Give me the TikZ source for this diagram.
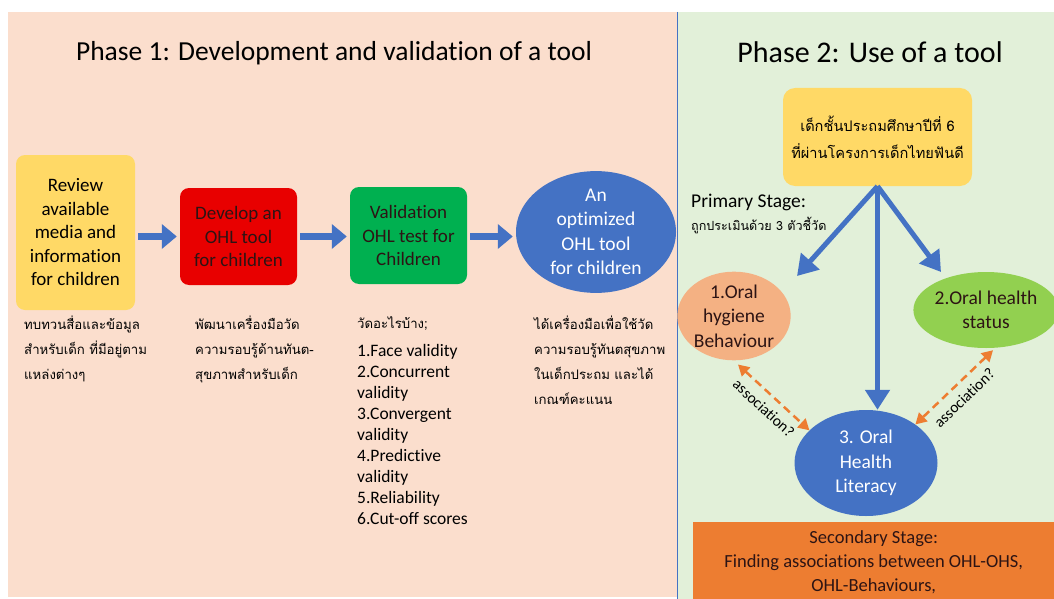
\documentclass[tikz,border=0pt]{standalone}
\usepackage{fontspec}
\setmainfont{Carlito}[Ligatures=NoCommon]
\newfontfamily\thaifont[Script=Thai]{Loma}
\usetikzlibrary{shapes.geometric,arrows.meta,positioning}

\definecolor{peachbg}{RGB}{251,222,205}
\definecolor{greenbg}{RGB}{226,240,217}
\definecolor{tyellow}{RGB}{255,217,102}
\definecolor{tred}{RGB}{232,0,0}
\definecolor{tgreen}{RGB}{0,176,80}
\definecolor{tblue}{RGB}{68,114,196}
\definecolor{tpeach}{RGB}{244,177,131}
\definecolor{tlime}{RGB}{146,208,80}
\definecolor{torange}{RGB}{237,125,49}
\definecolor{darktext}{RGB}{45,20,20}

\tikzset{
    box/.style={align=center, inner sep=2pt, rounded corners=9pt,
        font=\fontsize{19}{23.5}\selectfont},
    oval/.style={ellipse, align=center, inner sep=0pt,
        font=\fontsize{19.5}{24.5}\selectfont},
    thainote/.style={align=left, inner sep=0pt, anchor=north west,
        font=\thaifont\fontsize{13.2}{25}\selectfont},
    blockarrow/.style={draw=tblue, line width=7pt,
        -{Triangle[length=15pt,width=24pt]}, shorten <=3pt, shorten >=3pt},
    stemarrow/.style={draw=tblue, line width=5pt,
        -{Triangle[length=20pt,width=24pt]}},
    assoc/.style={draw=torange, line width=2.5pt, dash pattern=on 8pt off 5pt,
        {Triangle[length=11pt,width=12pt]}-{Triangle[length=11pt,width=12pt]}},
    assoclabel/.style={midway, below=8pt, sloped, inner sep=0pt,
        font=\fontsize{15.5}{17}\selectfont}
}

\begin{document}
\begin{tikzpicture}[x=1pt, y=-1pt]
\useasboundingbox (0,0) rectangle (1054,599);
\clip (0,0) rectangle (1054,599);
\fill[white] (0,0) rectangle (1054,599);
\fill[peachbg] (8,12) rectangle (677,597);
\fill[greenbg] (677,12) rectangle (1054,599);
\draw[tblue, line width=0.8pt] (677,12) -- (677,599);

% Phase 1
\node[font=\fontsize{27.5}{32}\selectfont] (ph1) at (334,53)
    {Phase 1: Development and validation of a tool};
\node[box,
    fill=tyellow,
    minimum width=119pt,
    minimum height=155pt
] (rev) at (75.5,232.5) {Review\\available\\media and\\information\\for children};
\node[box,
    fill=tred,
    text=darktext,
    minimum width=117pt,
    minimum height=97pt
] (dev) at (238.5,236.5) {Develop an\\OHL tool\\for children};
\node[box,
    fill=tgreen,
    text=darktext,
    minimum width=117pt,
    minimum height=97pt
] (val) at (408.5,235.5) {Validation\\OHL test for\\Children};
\node[oval,
    fill=tblue,
    text=white,
    minimum width=160pt,
    minimum height=105pt
] (tool) at (596,232) {An\\optimized\\OHL tool\\for children};
\foreach\a/\b in {rev/dev, dev/val, val/tool}{
    \draw[blockarrow] (\a.east |- dev.west) -- (\b.west |- dev.west);
}

\node[thainote] (revnote) at (24,316)
    {ทบทวนสื่อและข้อมูล\\สำหรับเด็ก ที่มีอยู่ตาม\\แหล่งต่างๆ};
\node[thainote] (devnote) at (195,316)
    {พัฒนาเครื่องมือวัด\\ความรอบรู้ด้านทันต-\\สุขภาพสำหรับเด็ก};
\node[thainote] (valnote) at (357,316) {วัดอะไรบ้าง;};
\node[align=left,
    inner sep=0pt,
    anchor=north west,
    font=\fontsize{17.5}{21}\selectfont
] (vallist) at (357,344) {1.Face validity\\2.Concurrent\\validity\\3.Convergent\\validity\\4.Predictive\\validity\\5.Reliability\\6.Cut-off scores};
\node[thainote] (toolnote) at (534,316)
    {ได้เครื่องมือเพื่อใช้วัด\\ความรอบรู้ทันตสุขภาพ\\ในเด็กประถม และได้\\เกณฑ์คะแนน};

% Phase 2
\node[font=\fontsize{30}{34}\selectfont] (ph2) at (870,52) {Phase 2: Use of a tool};
\node[box,
    fill=tyellow,
    rounded corners=12pt,
    minimum width=189pt,
    minimum height=98pt,
    font=\thaifont\fontsize{14.6}{27}\selectfont
] (kids) at (877.5,137) {เด็กชั้นประถมศึกษาปีที่ 6\\ที่ผ่านโครงการเด็กไทยฟันดี};
\node[anchor=north west, inner sep=0pt, font=\fontsize{19.5}{23}\selectfont]
    (prim) at (691,194) {Primary Stage:};
\node[anchor=north west, inner sep=0pt, font=\thaifont\fontsize{12.6}{16}\selectfont]
    (primnote) at ([yshift=-6pt]prim.south west) {ถูกประเมินด้วย 3 ตัวชี้วัด};

\node[oval,
    fill=tpeach,
    text=darktext,
    minimum width=111pt,
    minimum height=86pt
] (hyg) at (734,316) {1.Oral\\hygiene\\Behaviour};
\node[oval,
    fill=tlime,
    text=darktext,
    minimum width=138pt,
    minimum height=76pt
] (ohs) at (986,310) {2.Oral health\\status};
\node[oval,
    fill=tblue,
    text=white,
    minimum width=143pt,
    minimum height=106pt
] (ohl) at (866,463) {3. Oral\\Health\\Literacy};

\coordinate (hygtip) at (797,276);
\coordinate (ohstip) at (941,272);
\foreach\t in {hygtip, ohstip}{
    \draw[stemarrow] (kids.south) -- (\t);
}
\draw[stemarrow] (kids.south) -- (kids.south |- ohl.north);

\draw[assoc] ([xshift=4pt,yshift=-4pt]hyg.south) -- (ohl.150)
    node[assoclabel] (assocl) {association?};
\draw[assoc] ([xshift=7pt,yshift=-2pt]ohs.south) -- (ohl.38)
    node[assoclabel] (assocr) {association?};

\node[fill=torange,
    text=darktext,
    align=center,
    anchor=north west,
    minimum width=361pt,
    minimum height=80pt,
    font=\fontsize{18.5}{24}\selectfont
] (sec) at (693,522) {Secondary Stage:\\Finding associations between OHL-OHS,\\OHL-Behaviours,};
\end{tikzpicture}
\end{document}
